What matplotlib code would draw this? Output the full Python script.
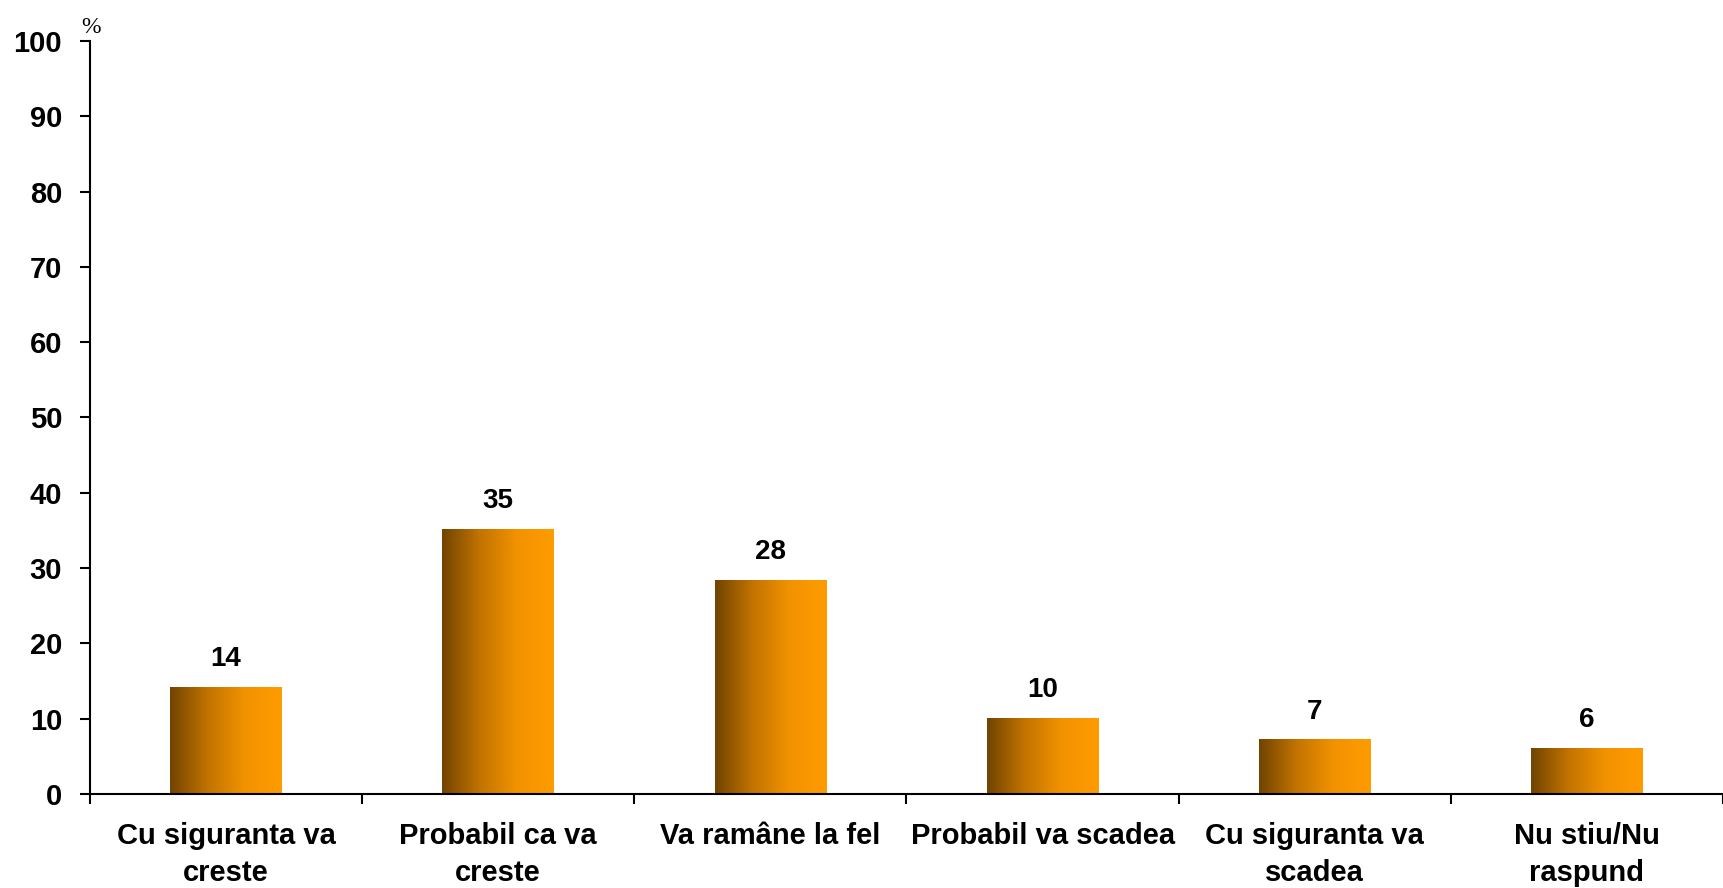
import matplotlib
matplotlib.use("Agg")
import matplotlib.pyplot as plt
import numpy as np
from matplotlib.colors import LinearSegmentedColormap

categories = ["Cu siguranta va\ncreste", "Probabil ca va\ncreste", "Va ramâne la fel",
              "Probabil va scadea", "Cu siguranta va\nscadea", "Nu stiu/Nu\nraspund"]
values = [14.2, 35.1, 28.4, 10.0, 7.2, 6.1]
labels = ["14", "35", "28", "10", "7", "6"]
yticks = list(range(0, 101, 10))

plt.rcParams['font.family'] = ['Liberation Sans', 'DejaVu Sans']
plt.rcParams['font.weight'] = 'bold'

fig = plt.figure(figsize=(17.23, 8.88), dpi=100)
ax = fig.add_axes([90 / 1723, 1 - 794 / 888, 1 - 90 / 1723, (794 - 41) / 888])

x = np.arange(len(categories))
bars = ax.bar(x, values, width=0.41, color='none', edgecolor='none')

# horizontal brown -> orange gradient in each bar
cmap = LinearSegmentedColormap.from_list('bar', ['#714400', '#c27300', '#f29200', '#ff9c00'])
grad = np.linspace(0, 1, 256).reshape(1, -1)
for b in bars:
    x0, w, h = b.get_x(), b.get_width(), b.get_height()
    ax.imshow(grad, cmap=cmap, aspect='auto', extent=(x0, x0 + w, 0, h),
              interpolation='bilinear', zorder=2)

for xi, v, lab in zip(x, values, labels):
    ax.annotate(lab, (xi, v), xytext=(0, 11), textcoords='offset points',
                ha='center', va='bottom', fontsize=20, fontweight='bold')

ax.set_xlim(-0.5, len(categories) - 0.5)
ax.set_ylim(0, 100)
ax.set_yticks(yticks)
ax.set_xticks(x)
ax.set_xticklabels(categories, fontsize=21, fontweight='bold', linespacing=1.42)
ax.set_xticks(np.arange(-0.5, len(categories), 1.0), minor=True)
ax.tick_params(axis='x', which='major', length=0, pad=20)
ax.tick_params(axis='x', which='minor', length=7, width=1.5, direction='out')
ax.tick_params(axis='y', labelsize=21, length=7, width=1.5, pad=13)
for t in ax.get_yticklabels():
    t.set_fontweight('bold')

ax.spines['top'].set_visible(False)
ax.spines['right'].set_visible(False)
ax.spines['left'].set_linewidth(1.5)
ax.spines['bottom'].set_linewidth(1.5)

ax.annotate('%', (0, 1), xycoords='axes fraction', xytext=(1, 6), textcoords='offset points',
            ha='center', va='baseline', fontsize=17, fontweight='normal',
            family=['Liberation Serif'])

fig.savefig('out.png', dpi=100)
